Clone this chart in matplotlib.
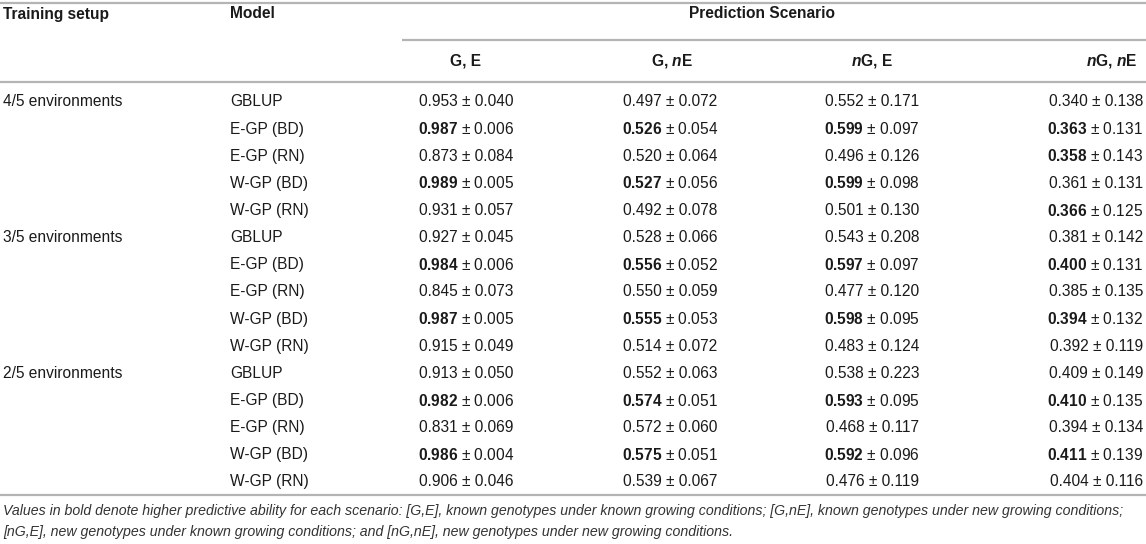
import matplotlib
matplotlib.use("Agg")
import matplotlib.pyplot as plt

plt.rcParams['font.family'] = ['Liberation Sans', 'DejaVu Sans']
plt.rcParams['mathtext.fontset'] = 'custom'
plt.rcParams['mathtext.rm'] = 'Liberation Sans'
plt.rcParams['mathtext.bf'] = 'Liberation Sans:bold'
plt.rcParams['mathtext.it'] = 'Liberation Sans:italic'
plt.rcParams['mathtext.bfit'] = 'Liberation Sans:italic:bold'

# ---------------- data ----------------
training_setups = ["4/5 environments", "3/5 environments", "2/5 environments"]
models = ["GBLUP", "E-GP (BD)", "E-GP (RN)", "W-GP (BD)", "W-GP (RN)"]
scenario_headers = ["G, E", "G, $\\mathbfit{n}$E", "$\\mathbfit{n}$G, E", "$\\mathbfit{n}$G, $\\mathbfit{n}$E"]

ge_mean   = [0.953, 0.987, 0.873, 0.989, 0.931, 0.927, 0.984, 0.845, 0.987, 0.915, 0.913, 0.982, 0.831, 0.986, 0.906]
ge_sd     = [0.040, 0.006, 0.084, 0.005, 0.057, 0.045, 0.006, 0.073, 0.005, 0.049, 0.050, 0.006, 0.069, 0.004, 0.046]
gne_mean  = [0.497, 0.526, 0.520, 0.527, 0.492, 0.528, 0.556, 0.550, 0.555, 0.514, 0.552, 0.574, 0.572, 0.575, 0.539]
gne_sd    = [0.072, 0.054, 0.064, 0.056, 0.078, 0.066, 0.052, 0.059, 0.053, 0.072, 0.063, 0.051, 0.060, 0.051, 0.067]
nge_mean  = [0.552, 0.599, 0.496, 0.599, 0.501, 0.543, 0.597, 0.477, 0.598, 0.483, 0.538, 0.593, 0.468, 0.592, 0.476]
nge_sd    = [0.171, 0.097, 0.126, 0.098, 0.130, 0.208, 0.097, 0.120, 0.095, 0.124, 0.223, 0.095, 0.117, 0.096, 0.119]
ngne_mean = [0.340, 0.363, 0.358, 0.361, 0.366, 0.381, 0.400, 0.385, 0.394, 0.392, 0.409, 0.410, 0.394, 0.411, 0.404]
ngne_sd   = [0.138, 0.131, 0.143, 0.131, 0.125, 0.142, 0.131, 0.135, 0.132, 0.119, 0.149, 0.135, 0.134, 0.139, 0.116]

ge_bold   = [0, 1, 0, 1, 0, 0, 1, 0, 1, 0, 0, 1, 0, 1, 0]
gne_bold  = [0, 1, 0, 1, 0, 0, 1, 0, 1, 0, 0, 1, 0, 1, 0]
nge_bold  = [0, 1, 0, 1, 0, 0, 1, 0, 1, 0, 0, 1, 0, 1, 0]
ngne_bold = [0, 1, 1, 0, 1, 0, 1, 0, 1, 0, 0, 1, 0, 1, 0]

footnote = [
    "Values in bold denote higher predictive ability for each scenario: [G,E], known genotypes under known growing conditions; [G,nE], known genotypes under new growing conditions;",
    "[nG,E], new genotypes under known growing conditions; and [nG,nE], new genotypes under new growing conditions.",
]

# ---------------- layout ----------------
W, H = 1146, 544
fig = plt.figure(figsize=(W / 100, H / 100), dpi=100)
ax = fig.add_axes([0, 0, 1, 1])
ax.set_xlim(0, W)
ax.set_ylim(H, 0)
ax.axis('off')

TXT = '#1a1a1a'
LINE = '#b4b4b4'
FS = 11.2

def hline(y, x0=0, x1=W):
    ax.plot([x0, x1], [y, y], color=LINE, lw=1.6, solid_capstyle='butt')

hline(3)
hline(40, 402, W)
hline(82)
hline(495)

# headers
ax.text(3, 14, "Training setup", fontsize=FS, fontweight='bold', color=TXT, va='center', ha='left')
ax.text(230, 14, "Model", fontsize=FS, fontweight='bold', color=TXT, va='center', ha='left')
ax.text(762, 14, "Prediction Scenario", fontsize=FS, fontweight='bold', color=TXT, va='center', ha='center')

col_x = [466, 670, 872, 1143]
col_ha = ['center', 'center', 'center', 'right']
hdr_x = [466, 672, 872, 1137]
for hx, ha, h in zip(hdr_x, col_ha, scenario_headers):
    ax.text(hx, 61, h, fontsize=FS, fontweight='bold', color=TXT, va='center', ha=ha)

row_y0, row_dy = 102, 27.14
cols = [(ge_mean, ge_sd, ge_bold), (gne_mean, gne_sd, gne_bold),
        (nge_mean, nge_sd, nge_bold), (ngne_mean, ngne_sd, ngne_bold)]
n_rows = len(ge_mean)
for i in range(n_rows):
    y = row_y0 + i * row_dy
    if i % len(models) == 0:
        ax.text(3, y, training_setups[i // len(models)], fontsize=FS, color=TXT, va='center', ha='left')
    ax.text(230, y, models[i % len(models)], fontsize=FS, color=TXT, va='center', ha='left')
    for (m, s, b), cx, ha in zip(cols, col_x, col_ha):
        if b[i]:
            label = "$\\mathbf{%.3f}$ \u00b1 %.3f" % (m[i], s[i])
        else:
            label = "%.3f \u00b1 %.3f" % (m[i], s[i])
        ax.text(cx, y, label, fontsize=FS, color=TXT, va='center', ha=ha)

for k, line in enumerate(footnote):
    ax.text(3, 511 + k * 21, line, fontsize=10.15, style='italic', color='#333333', va='center', ha='left')

fig.savefig("out.png", dpi=100)
